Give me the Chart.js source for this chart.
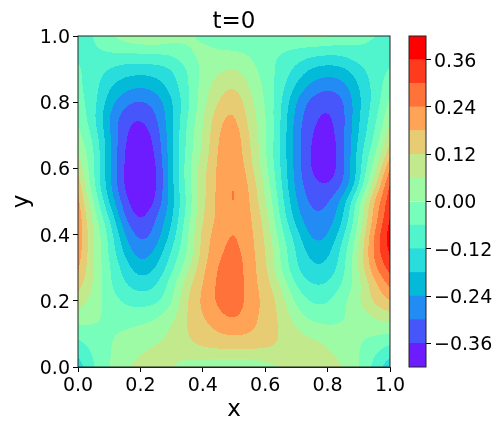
<!DOCTYPE html>
<html>
<head>
<meta charset="utf-8">
<script src="https://cdn.jsdelivr.net/npm/chart.js@4"></script>
<style>
  body { margin: 0; background: #fff; }
  canvas { position: absolute; top: 0; }
</style>
</head>
<body>
<canvas id="field" width="504" height="432" style="left:0"></canvas>
<canvas id="bar" width="104" height="432" style="left:400px"></canvas>
<script>
const xs = [0, 0.05, 0.1, 0.15, 0.2, 0.25, 0.3, 0.35, 0.4, 0.45, 0.5, 0.55, 0.6, 0.65, 0.7, 0.75, 0.8, 0.85, 0.9, 0.95, 1];
const ys = [0, 0.05, 0.1, 0.15, 0.2, 0.25, 0.3, 0.35, 0.4, 0.45, 0.5, 0.55, 0.6, 0.65, 0.7, 0.75, 0.8, 0.85, 0.9, 0.95, 1];
const axisTicks = [0, 0.2, 0.4, 0.6, 0.8, 1];
const barTicks = [-0.36, -0.24, -0.12, 0, 0.12, 0.24, 0.36];
const levels = [-0.42, -0.36, -0.3, -0.24, -0.18, -0.12, -0.06, 0, 0.06, 0.12, 0.18, 0.24, 0.3, 0.36, 0.42];
const bandColors = ["#6d1cff", "#4756fb", "#228bf4", "#04bad9", "#2addDD", "#50f4cd", "#76feba", "#9cfba4", "#c2ea8c", "#e7cc73", "#ffa457", "#ff733b", "#ff3b1d", "#ff0000"];

// u(x, y), one row per y from 0 to 1
const field = [
  [-.15, -.06, 0, .05, .08, .09, .07, .02, .02, .005, .003, .01, .03, .07, .08, .085, .08, .065, .005, -.08, -.16],
  [-.10, -.05, -.003, .03, .055, .07, .085, .10, .118, .12, .122, .12, .118, .115, .10, .09, .07, .04, .005, -.05, -.09],
  [-.04, -.02, -.005, .01, .025, .04, .07, .125, .15, .18, .19, .185, .16, .115, .075, .05, .03, .015, .01, .005, -.002],
  [.03, .02, -.02, -.03, -.02, -.005, .045, .125, .18, .22, .258, .205, .16, .11, .03, -.02, -.03, -.005, .02, .065, .09],
  [.095, .035, -.03, -.07, -.09, -.08, -.025, .13, .195, .26, .30, .21, .17, .10, -.02, -.075, -.07, -.01, .06, .14, .18],
  [.145, .06, -.055, -.12, -.155, -.135, -.02, .10, .185, .255, .30, .20, .16, .055, -.075, -.125, -.12, -.055, .03, .16, .255],
  [.19, .06, -.055, -.145, -.23, -.185, -.085, .04, .17, .25, .29, .21, .14, -.01, -.12, -.18, -.175, -.085, .07, .24, .33],
  [.215, .06, -.07, -.20, -.29, -.235, -.11, -.015, .155, .225, .27, .205, .13, -.005, -.13, -.21, -.21, -.09, .06, .27, .375],
  [.23, .06, -.07, -.245, -.335, -.285, -.165, -.005, .15, .215, .2533, .20, .12, -.04, -.15, -.275, -.255, -.135, .03, .26, .395],
  [.225, .03, -.11, -.31, -.385, -.30, -.195, -.03, .125, .195, .25, .195, .10, -.07, -.22, -.295, -.285, -.195, 0, .21, .358],
  [.20, 0, -.19, -.345, -.425, -.365, -.21, -.05, .115, .20, .266, .185, .07, -.09, -.245, -.325, -.315, -.21, -.01, .20, .34],
  [.155, -.055, -.225, -.385, -.44, -.385, -.195, -.03, .10, .20, .266, .175, .05, -.11, -.27, -.345, -.365, -.32, -.14, .10, .31],
  [.10, -.05, -.225, -.38, -.435, -.38, -.205, -.015, .10, .20, .245, .15, .02, -.12, -.275, -.375, -.42, -.32, -.15, .03, .24],
  [.055, -.045, -.225, -.375, -.425, -.36, -.195, -.035, .065, .20, .24, .13, .01, -.13, -.275, -.375, -.42, -.325, -.145, -.025, .15],
  [.02, -.07, -.23, -.36, -.405, -.345, -.195, -.04, .065, .185, .235, .115, .02, -.122, -.285, -.365, -.40, -.32, -.17, -.065, .10],
  [-.012, -.10, -.255, -.345, -.37, -.315, -.19, -.06, .055, .17, .21, .095, .01, -.12, -.27, -.35, -.38, -.325, -.18, -.08, .05],
  [-.035, -.09, -.215, -.29, -.315, -.285, -.195, -.08, .04, .125, .18, .08, 0, -.11, -.255, -.33, -.36, -.32, -.19, -.105, .01],
  [-.05, -.09, -.175, -.215, -.235, -.215, -.15, -.07, .03, .09, .13, .055, -.015, -.09, -.19, -.26, -.285, -.265, -.18, -.10, -.02],
  [-.05, -.09, -.125, -.15, -.155, -.15, -.13, -.065, .02, .05, .07, .03, -.03, -.08, -.135, -.195, -.21, -.20, -.14, -.09, -.06],
  [-.075, -.07, -.055, -.058, -.055, -.05, -.05, 0, .02, .003, .002, -.01, -.04, -.062, -.08, -.095, -.105, -.10, -.07, -.08, -.085],
  [-.09, -.062, -.01, .03, .058, .063, .03, .01, -.01, -.03, -.035, -.03, -.02, -.01, -.003, .01, .006, -.02, -.04, -.058, -.08],
];

const fontFamily = "'DejaVu Sans'";

// scatter points are only there so the scales know the grid
const gridPoints = [];
ys.forEach((y) => xs.forEach((x) => gridPoints.push({ x: x, y: y })));

// cubic B-spline through the grid, keeps the contour lines round
function spline(a, b, c, d, t) {
  const s = 1 - t;
  return (s * s * s * a + (3 * t * t * t - 6 * t * t + 4) * b + (-3 * t * t * t + 3 * t * t + 3 * t + 1) * c + t * t * t * d) / 6;
}

function nodeValue(i, j) {
  // linear extension past the edges of the grid
  const n = xs.length - 1, m = ys.length - 1;
  if (j < 0) return 2 * nodeValue(i, 0) - nodeValue(i, 1);
  if (j > m) return 2 * nodeValue(i, m) - nodeValue(i, m - 1);
  if (i < 0) return 2 * field[j][0] - field[j][1];
  if (i > n) return 2 * field[j][n] - field[j][n - 1];
  return field[j][i];
}

function fieldAt(x, y) {
  const fx = Math.min(x / (xs[1] - xs[0]), xs.length - 1.0001);
  const fy = Math.min(y / (ys[1] - ys[0]), ys.length - 1.0001);
  const i = Math.floor(fx), j = Math.floor(fy);
  const col = [];
  for (let q = -1; q <= 2; q++) {
    col.push(spline(nodeValue(i - 1, j + q), nodeValue(i, j + q), nodeValue(i + 1, j + q), nodeValue(i + 2, j + q), fx - i));
  }
  return spline(col[0], col[1], col[2], col[3], fy - j);
}

function hexToRgb(hex) {
  return [1, 3, 5].map((p) => parseInt(hex.substr(p, 2), 16));
}

// filled contour bands, not antialiased, same as the picture
const contourPlugin = {
  id: "contour",
  beforeDatasetsDraw(chart) {
    const area = chart.chartArea;
    const w = Math.round(area.right - area.left), h = Math.round(area.bottom - area.top);
    const off = document.createElement("canvas");
    off.width = w;
    off.height = h;
    const offCtx = off.getContext("2d");
    const img = offCtx.createImageData(w, h);
    const rgb = bandColors.map(hexToRgb);
    for (let py = 0; py < h; py++) {
      const y = chart.scales.y.getValueForPixel(area.top + py + 0.5);
      for (let px = 0; px < w; px++) {
        const x = chart.scales.x.getValueForPixel(area.left + px + 0.5);
        const v = fieldAt(x, y);
        let band = 0;
        while (band < bandColors.length - 1 && v >= levels[band + 1]) band++;
        const p = (py * w + px) * 4;
        img.data[p] = rgb[band][0];
        img.data[p + 1] = rgb[band][1];
        img.data[p + 2] = rgb[band][2];
        img.data[p + 3] = 255;
      }
    }
    offCtx.putImageData(img, 0, 0);
    chart.ctx.drawImage(off, area.left, area.top);
  },
};

// box round the plot area
const framePlugin = {
  id: "frame",
  afterDraw(chart) {
    const a = chart.chartArea, ctx = chart.ctx;
    ctx.save();
    ctx.strokeStyle = "#222";
    ctx.lineWidth = 1;
    ctx.strokeRect(a.left, a.top, a.right - a.left, a.bottom - a.top);
    ctx.restore();
  },
};

// canvas "middle" sits a bit high for digits, nudge the value labels down
function nudgeLabels(axis) {
  if (axis.drawLabels !== Chart.Scale.prototype.drawLabels) return;
  axis.drawLabels = function (area) {
    this.ctx.save();
    this.ctx.translate(0, 2);
    Chart.Scale.prototype.drawLabels.call(this, area);
    this.ctx.restore();
  };
}

new Chart(document.getElementById("field").getContext("2d"), {
  type: "scatter",
  data: {
    datasets: [{ data: gridPoints, pointRadius: 0 }],
  },
  options: {
    responsive: false,
    animation: false,
    devicePixelRatio: 1,
    layout: { padding: { right: 114 } },
    plugins: {
      legend: { display: false },
      tooltip: { enabled: false },
      title: {
        display: true,
        text: "t=0",
        fullSize: false,
        color: "#000",
        font: { family: fontFamily, size: 23, weight: "normal", lineHeight: 1.2 },
        padding: { top: 8.4, bottom: 0 },
      },
    },
    scales: {
      x: {
        type: "linear",
        min: 0,
        max: 1,
        afterBuildTicks(axis) { axis.ticks = axisTicks.map((v) => ({ value: v })); },
        afterFit(axis) { axis.height = 65; },
        ticks: {
          color: "#000",
          font: { family: fontFamily, size: 19 },
          maxRotation: 0,
          padding: 3,
          callback: (v) => v.toFixed(1),
        },
        grid: { display: true, drawOnChartArea: false, color: "#000", tickLength: 5 },
        border: { color: "#222" },
        title: { display: true, text: "x", color: "#000", font: { family: fontFamily, size: 23 }, padding: { top: 0, bottom: 8 } },
      },
      y: {
        type: "linear",
        min: 0,
        max: 1,
        afterBuildTicks(axis) { axis.ticks = axisTicks.map((v) => ({ value: v })); },
        afterFit(axis) { axis.width = 78; nudgeLabels(axis); },
        ticks: {
          color: "#000",
          font: { family: fontFamily, size: 19 },
          padding: 3,
          callback: (v) => v.toFixed(1),
        },
        grid: { display: true, drawOnChartArea: false, color: "#000", tickLength: 5 },
        border: { color: "#222" },
        title: { display: true, text: "y", color: "#000", font: { family: fontFamily, size: 23 }, padding: { top: 8, bottom: 0 } },
      },
    },
  },
  plugins: [contourPlugin, framePlugin],
});

// colorbar, one floating bar per band
const bandDatasets = bandColors.map((color, i) => ({
  data: [[levels[i], levels[i + 1]]],
  backgroundColor: color,
  barPercentage: 1,
  categoryPercentage: 1,
  grouped: false,
}));

new Chart(document.getElementById("bar").getContext("2d"), {
  type: "bar",
  data: { labels: [""], datasets: bandDatasets },
  options: {
    responsive: false,
    animation: false,
    devicePixelRatio: 1,
    layout: { padding: { left: 9, top: 36, bottom: 65 } },
    plugins: { legend: { display: false }, tooltip: { enabled: false } },
    scales: {
      x: { display: false },
      y: {
        position: "right",
        min: levels[0],
        max: levels[levels.length - 1],
        afterBuildTicks(axis) { axis.ticks = barTicks.map((v) => ({ value: v })); },
        afterFit(axis) { axis.width = 78; nudgeLabels(axis); },
        ticks: {
          color: "#000",
          font: { family: fontFamily, size: 19 },
          padding: 3,
          callback: (v) => (v < 0 ? "\u2212" : "") + Math.abs(v).toFixed(2),
        },
        grid: { display: true, drawOnChartArea: false, color: "#000", tickLength: 5 },
        border: { display: false },
      },
    },
  },
  plugins: [framePlugin],
});
</script>
</body>
</html>
